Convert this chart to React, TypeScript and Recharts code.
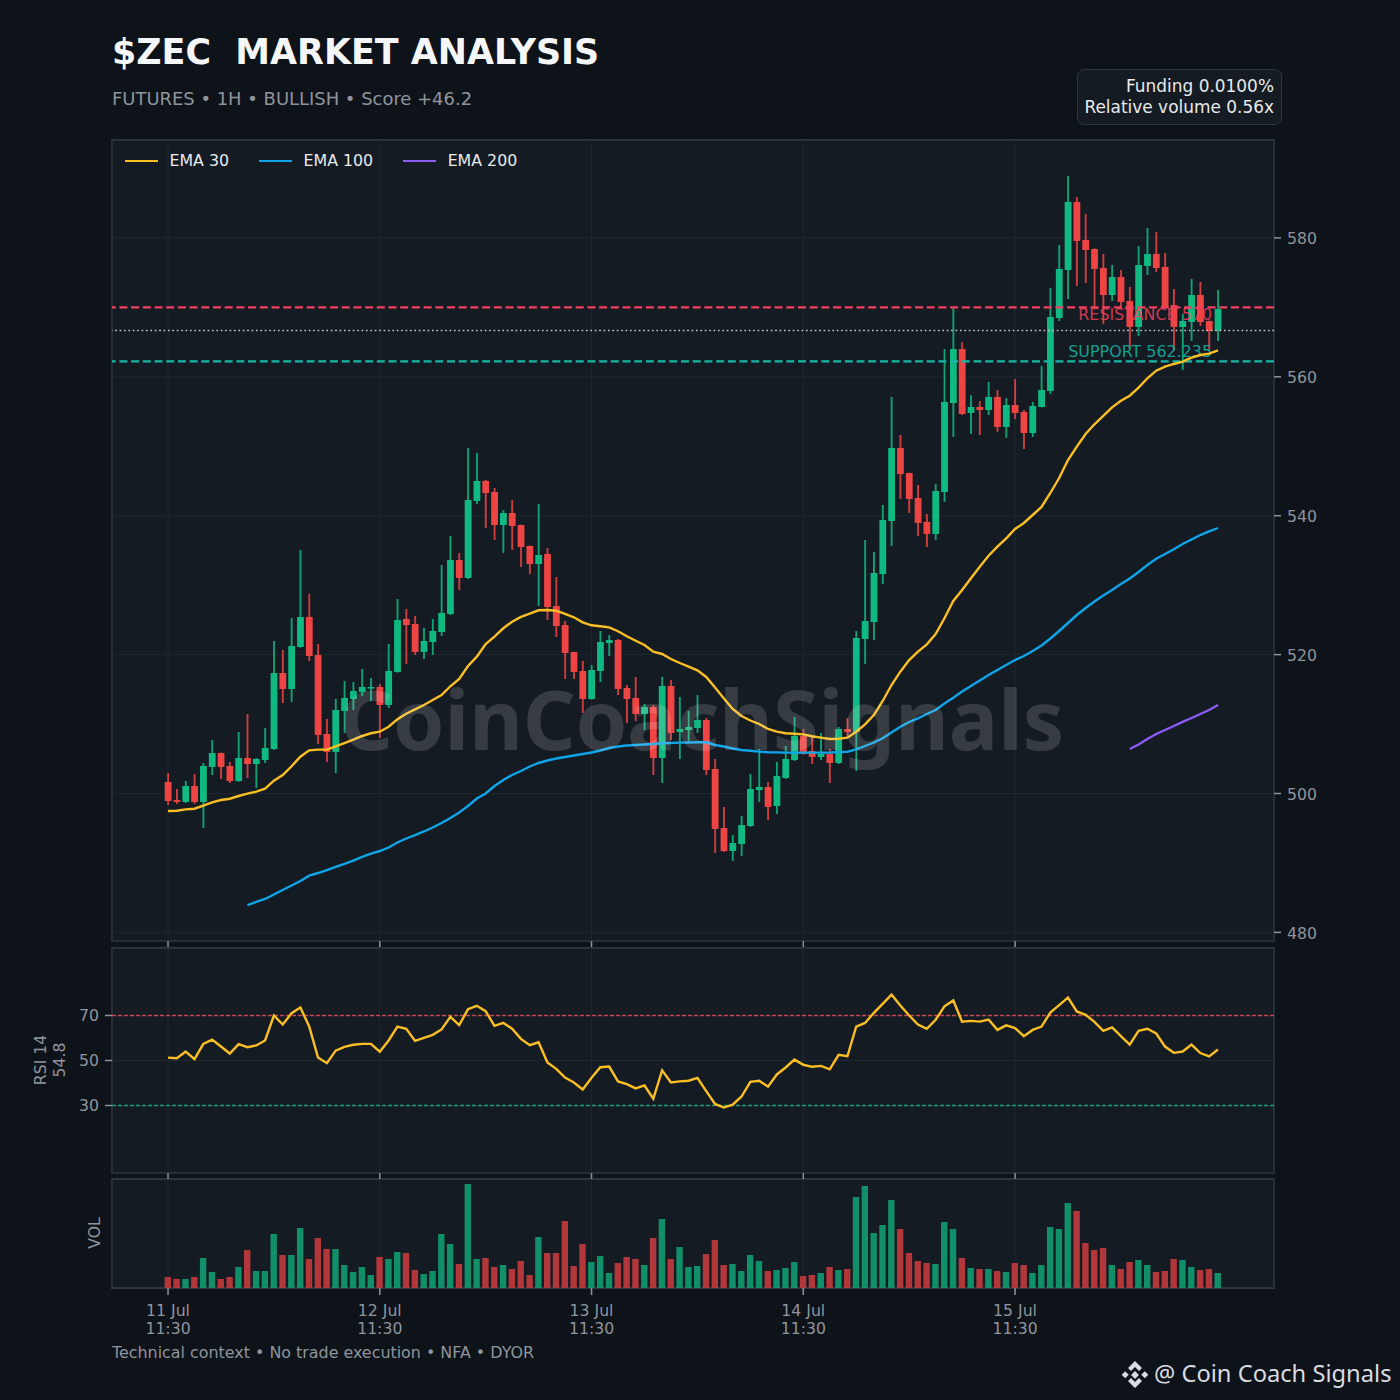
import { Bar, CartesianGrid, Cell, ComposedChart, Legend, Line, ReferenceLine, XAxis, YAxis } from "recharts";

const opens = [
  501.66, 499.06, 498.78, 501.08, 498.78, 503.82, 505.83, 503.96, 501.8, 505.11,
  504.25, 504.82, 506.41, 517.35, 515.05, 521.1, 525.42, 519.94, 508.57, 505.98,
  511.88, 513.61, 514.62, 515.2, 515.34, 512.74, 517.5, 525.13, 524.41, 520.38,
  521.82, 523.26, 525.85, 533.62, 531.03, 542.12, 545.0, 543.41, 538.66, 540.39,
  538.66, 535.64, 533.05, 534.49, 527.0, 524.26, 520.38, 517.64, 513.61, 517.64,
  521.67, 522.1, 515.19, 513.75, 511.45, 512.46, 505.11, 515.48, 508.86, 509.14,
  509.43, 510.58, 503.53, 495.03, 491.72, 492.73, 495.32, 500.5, 500.94, 498.2,
  502.23, 504.82, 508.28, 506.12, 505.26, 505.69, 504.39, 509.29, 508.86, 522.25,
  524.69, 531.6, 539.24, 549.75, 546.15, 542.55, 539.1, 537.37, 543.41, 556.23,
  564.0, 554.8, 555.66, 555.22, 557.1, 552.78, 555.94, 554.94, 551.91, 555.66,
  557.96, 568.47, 575.38, 585.18, 579.7, 578.4, 575.67, 571.78, 574.38, 570.92,
  567.18, 575.96, 577.69, 575.82, 570.34, 567.18, 567.9, 571.78, 568.04, 566.6,
];
const closes = [
  498.92, 498.78, 501.08, 498.78, 503.96, 505.83, 503.82, 501.8, 505.11, 504.25,
  504.97, 506.55, 517.35, 515.05, 521.24, 525.42, 519.8, 508.42, 505.98, 512.02,
  513.75, 514.76, 515.34, 515.34, 512.74, 517.64, 524.98, 524.26, 520.38, 521.96,
  523.4, 526.0, 533.62, 531.03, 542.26, 545.0, 543.27, 538.66, 540.39, 538.52,
  535.5, 533.05, 534.34, 526.86, 524.12, 520.23, 517.5, 513.61, 517.78, 521.82,
  522.1, 515.05, 513.61, 511.45, 512.46, 505.11, 515.48, 508.71, 509.29, 509.58,
  510.58, 503.38, 494.89, 491.72, 492.87, 495.46, 500.65, 500.94, 498.06, 502.52,
  504.97, 508.28, 505.69, 505.26, 505.69, 504.39, 509.29, 508.86, 522.39, 524.84,
  531.75, 539.38, 549.75, 546.0, 542.41, 538.95, 537.37, 543.56, 556.38, 564.0,
  554.65, 555.66, 555.22, 557.1, 552.78, 555.94, 554.8, 551.91, 555.8, 558.1,
  568.62, 575.53, 585.18, 579.56, 578.26, 575.53, 571.78, 574.38, 570.78, 567.18,
  576.1, 577.69, 575.67, 570.06, 567.18, 568.04, 571.78, 567.9, 566.6, 569.77,
];
const highs = [
  502.95, 500.65, 501.8, 502.81, 504.39, 507.7, 505.9, 504.54, 508.86, 511.45,
  505.1, 509.43, 521.96, 520.66, 525.27, 535.06, 528.73, 521.53, 510.73, 513.61,
  516.2, 516.06, 517.93, 516.63, 515.77, 521.53, 528.0, 526.57, 525.56, 523.83,
  525.13, 532.9, 537.08, 534.63, 549.75, 549.03, 545.14, 543.99, 540.82, 542.26,
  538.7, 535.7, 541.69, 535.35, 531.18, 524.84, 520.4, 519.08, 518.5, 523.4,
  522.82, 522.25, 515.62, 516.78, 512.89, 512.74, 516.78, 516.34, 513.9, 511.88,
  514.18, 510.87, 504.97, 498.06, 494.02, 496.76, 502.81, 506.41, 501.66, 504.54,
  506.84, 511.02, 509.29, 508.14, 508.71, 506.41, 509.58, 510.87, 523.4, 536.5,
  534.78, 541.54, 557.1, 551.62, 546.2, 544.42, 540.25, 544.57, 564.0, 570.05,
  565.0, 557.34, 556.5, 559.26, 558.1, 556.94, 559.7, 555.22, 556.38, 561.56,
  572.8, 578.98, 588.92, 585.9, 583.45, 578.5, 577.69, 576.1, 575.38, 572.94,
  578.84, 581.43, 580.86, 577.83, 572.65, 569.05, 574.09, 573.66, 568.1, 572.5,
];
const lows = [
  498.34, 498.49, 498.63, 498.49, 495.03, 502.66, 502.09, 501.51, 501.7, 502.23,
  500.79, 504.39, 506.26, 513.03, 513.18, 521.0, 519.08, 507.13, 504.54, 502.95,
  508.71, 512.02, 514.04, 513.32, 507.99, 512.31, 517.4, 518.65, 519.94, 519.37,
  519.94, 522.68, 525.7, 529.3, 530.9, 541.69, 538.23, 536.5, 534.63, 535.06,
  532.62, 531.6, 527.0, 524.98, 522.54, 516.49, 516.49, 511.59, 513.5, 516.06,
  519.8, 514.18, 510.15, 510.44, 509.14, 502.66, 501.51, 507.7, 504.97, 507.56,
  508.71, 502.66, 491.43, 491.58, 490.28, 491.0, 495.2, 498.78, 496.18, 497.05,
  502.1, 504.7, 505.6, 504.25, 504.82, 501.51, 504.25, 508.14, 503.24, 518.65,
  522.1, 530.17, 535.64, 542.41, 540.39, 537.08, 535.5, 536.5, 542.0, 551.34,
  554.5, 551.77, 551.62, 554.5, 552.06, 551.2, 553.93, 549.6, 551.34, 555.6,
  557.53, 568.04, 571.2, 573.08, 573.5, 570.06, 567.6, 570.92, 570.06, 564.3,
  565.88, 574.66, 575.1, 569.9, 563.84, 561.0, 565.16, 567.32, 563.84, 565.16,
];
const ema30 = [
  497.48, 497.52, 497.72, 497.81, 498.24, 498.73, 499.06, 499.25, 499.64, 499.97,
  500.26, 500.69, 501.84, 502.66, 503.92, 505.3, 506.22, 506.31, 506.31, 506.8,
  507.27, 507.75, 508.28, 508.67, 508.9, 509.62, 510.68, 511.49, 512.12, 512.74,
  513.46, 514.18, 515.44, 516.49, 518.36, 519.7, 521.53, 522.58, 523.79, 524.74,
  525.42, 525.89, 526.38, 526.42, 526.32, 525.85, 525.37, 524.65, 524.22, 524.08,
  523.93, 523.36, 522.64, 522.0, 521.38, 520.42, 520.09, 519.37, 518.79, 518.26,
  517.74, 516.78, 515.26, 513.68, 512.17, 511.16, 510.51, 510.01, 509.29, 508.9,
  508.67, 508.61, 508.52, 508.24, 508.04, 507.85, 507.89, 508.04, 508.9, 509.96,
  511.3, 513.32, 515.62, 517.54, 519.22, 520.42, 521.48, 522.97, 525.23, 527.72,
  529.3, 530.99, 532.66, 534.24, 535.54, 536.75, 538.09, 538.95, 540.1, 541.26,
  543.27, 545.43, 548.02, 549.94, 551.77, 553.16, 554.36, 555.61, 556.56, 557.28,
  558.44, 559.79, 560.88, 561.46, 561.85, 562.18, 562.76, 563.14, 563.33, 563.82,
];
const ema100Start = 9;
const ema100 = [
  483.94, 484.38, 484.81, 485.46, 486.1, 486.75, 487.4, 488.16, 488.55, 488.98, 489.42,
  489.85, 490.35, 490.86, 491.35, 491.72, 492.22, 492.94, 493.52, 494.02, 494.53,
  495.1, 495.75, 496.47, 497.26, 498.2, 499.28, 500, 501.08, 501.94, 502.66,
  503.24, 503.89, 504.39, 504.75, 505.04, 505.26, 505.47, 505.69, 505.9, 506.19,
  506.55, 506.77, 506.91, 506.98, 507.06, 507.13, 507.23, 507.27, 507.32, 507.34,
  507.37, 507.37, 506.98, 506.77, 506.48, 506.26, 506.15, 506.03, 505.93, 505.92,
  505.89, 505.88, 505.88, 505.88, 505.88, 505.9, 505.95, 506.02, 506.34, 506.84,
  507.34, 507.95, 508.78, 509.62, 510.3, 510.83, 511.45, 512.02, 512.96, 513.8,
  514.69, 515.48, 516.27, 517.06, 517.78, 518.5, 519.22, 519.8, 520.52, 521.31,
  522.32, 523.4, 524.55, 525.7, 526.71, 527.65, 528.51, 529.3, 530.17, 530.96,
  531.9, 532.9, 533.8, 534.49, 535.16, 535.93, 536.58, 537.22, 537.73, 538.23,
];
const ema200Start = 109;
const ema200 = [506.41, 507.06, 507.85, 508.57, 509.14, 509.72, 510.3, 510.87, 511.45, 512.02, 512.74];
const rsi = [
  51.3, 51.0, 54.0, 50.6, 57.4, 59.3, 56.2, 53.1, 57.3, 55.9,
  56.7, 58.9, 70.0, 66.0, 71.0, 73.6, 65.1, 51.3, 48.8, 54.4,
  56.1, 57.0, 57.4, 57.4, 53.9, 58.9, 65.1, 64.1, 58.7, 60.1,
  61.4, 63.8, 69.4, 65.7, 72.8, 74.3, 71.9, 65.4, 66.7, 64.1,
  59.6, 56.8, 58.1, 49.1, 46.3, 42.4, 40.2, 37.1, 42.3, 47.0,
  47.3, 40.7, 39.5, 37.6, 38.9, 33.0, 45.6, 40.2, 40.7, 41.0,
  42.3, 36.4, 30.7, 29.1, 30.4, 34.0, 40.5, 41.0, 38.4, 43.8,
  46.9, 50.4, 48.1, 47.2, 47.6, 46.1, 52.5, 51.9, 65.1, 66.7,
  71.2, 75.2, 79.3, 74.4, 70.0, 66.0, 64.1, 68.1, 74.1, 76.7,
  67.2, 67.6, 67.3, 68.2, 63.6, 65.6, 64.4, 60.8, 63.6, 65.1,
  71.3, 74.6, 78.0, 71.8, 70.3, 67.2, 63.2, 64.7, 60.8, 57.1,
  63.2, 64.1, 62.0, 56.2, 53.4, 54.0, 57.1, 53.3, 51.8, 54.9,
];
const volumes = [
  33, 27, 27, 33, 90, 48, 27, 33, 63, 114,
  51, 51, 162, 99, 99, 180, 87, 150, 117, 117,
  69, 48, 63, 39, 93, 87, 108, 105, 54, 42,
  51, 162, 132, 72, 312, 87, 90, 63, 69, 57,
  81, 39, 153, 105, 105, 201, 66, 132, 78, 96,
  45, 75, 93, 87, 69, 150, 207, 87, 123, 63,
  66, 102, 144, 69, 72, 51, 99, 81, 51, 54,
  60, 78, 36, 39, 45, 63, 54, 57, 273, 306,
  165, 189, 264, 177, 105, 81, 75, 72, 198, 177,
  90, 60, 57, 57, 51, 48, 75, 69, 45, 69,
  183, 177, 255, 231, 135, 114, 120, 69, 57, 78,
  84, 69, 48, 51, 87, 84, 63, 54, 57, 45,
];

const tickIndex = [0, 24, 48, 72, 96];
const tickLabels = ["11 Jul\n11:30", "12 Jul\n11:30", "13 Jul\n11:30", "14 Jul\n11:30", "15 Jul\n11:30"];
const priceTicks = [480, 500, 520, 540, 560, 580];
const rsiTicks = [30, 50, 70];
const legendOrder = ["EMA 30", "EMA 100", "EMA 200"];
const resistance = 570;
const support = 562.235;
const lastPrice = 566.67;

const table = opens.map((open, i) => ({
  i,
  open,
  close: closes[i],
  high: highs[i],
  low: lows[i],
  range: [lows[i], highs[i]],
  ema30: ema30[i],
  ema100: i >= ema100Start ? ema100[i - ema100Start] : null,
  ema200: i >= ema200Start ? ema200[i - ema200Start] : null,
  rsi: rsi[i],
  volume: volumes[i],
}));

const xDomain: [number, number] = [-6.35, 125.35];
const GREEN = "#10b981";
const RED = "#ef4444";
const AXIS = "#8f959d";
const GRID = "#1f2731";
const PANEL = "#141b23";
const BORDER = "#2e3641";

const Candle = (props: any) => {
  const { x, y, width, height, payload } = props;
  const up = payload.close >= payload.open;
  const color = up ? GREEN : RED;
  const k = height / (payload.high - payload.low);
  const top = y + (payload.high - Math.max(payload.open, payload.close)) * k;
  const bodyH = Math.max(Math.abs(payload.open - payload.close) * k, 1.6);
  const cx = x + width / 2;
  return (
    <g>
      <line x1={cx} x2={cx} y1={y} y2={y + height} stroke={color} strokeOpacity={0.85} strokeWidth={1.9} />
      <rect x={cx - 3.4} y={top} width={6.8} height={bodyH} fill={color} />
    </g>
  );
};

const DateTick = (props: any) => {
  const { x, y, index } = props;
  const [a, b] = tickLabels[index].split("\n");
  return (
    <text x={x} y={y} textAnchor="middle" fill={AXIS} fontSize={15.7}>
      <tspan x={x} dy={19}>{a}</tspan>
      <tspan x={x} dy={18}>{b}</tspan>
    </text>
  );
};

const levelLabel = (text: string, color: string, dy: number) => (props: any) => {
  const { viewBox } = props;
  return (
    <text x={viewBox.x + viewBox.width - 62} y={viewBox.y + dy} textAnchor="end" fill={color} fillOpacity={0.85} fontSize={15.9}>
      {text}
    </text>
  );
};

const EmaLegend = (props: any) => {
  const items = legendOrder.map((n) => (props.payload || []).find((p: any) => p.value === n)).filter(Boolean);
  return (
    <div style={{ display: "flex", color: "#e8eaed", fontSize: 15.8 }}>
      {items.map((p: any) => (
        <div key={p.value} style={{ display: "flex", alignItems: "center", marginRight: 30 }}>
          <span style={{ width: 33, height: 2, background: p.color, marginRight: 11.5, display: "inline-block" }} />
          {p.value}
        </div>
      ))}
    </div>
  );
};

const panel = (top: number, height: number): any => ({
  position: "absolute",
  left: 111,
  top: top - 1,
  width: 1164,
  height: height + 2,
  boxSizing: "border-box",
  background: PANEL,
  border: `2px solid ${BORDER}`,
});

const text = (left: number, top: number, size: number, color: string, extra: any = {}): any => ({
  position: "absolute",
  left,
  top,
  fontSize: size,
  color,
  lineHeight: 1,
  whiteSpace: "pre",
  ...extra,
});

export default function App() {
  return (
    <div style={{ position: "absolute", left: 0, top: 0, width: 1400, height: 1400, background: "#0e1219", overflow: "hidden", fontFamily: "'DejaVu Sans', sans-serif" }}>
      <div style={text(112, 35, 34.9, "#f4f6f8", { fontWeight: 700 })}>{"$ZEC  MARKET ANALYSIS"}</div>
      <div style={text(112, 90, 17.95, "#8f959d")}>FUTURES • 1H • BULLISH • Score +46.2</div>
      <div style={{ position: "absolute", left: 1077, top: 69, width: 205, height: 56, boxSizing: "border-box", background: PANEL, border: `1.5px solid ${BORDER}`, borderRadius: 7, color: "#e8eaed", fontSize: 16.95, lineHeight: "20.5px", textAlign: "right", padding: "6px 7px 0 0" }}>
        <div>Funding 0.0100%</div>
        <div>Relative volume 0.56x</div>
      </div>

      <div style={panel(140, 801)} />
      <div style={panel(948, 225)} />
      <div style={panel(1179, 109)} />

      <div style={{ position: "absolute", left: 0, top: 140 }}>
        <ComposedChart width={1400} height={808} data={table} margin={{ top: 0, right: 0, bottom: 0, left: 112 }}>
          <CartesianGrid stroke={GRID} />
          <XAxis dataKey="i" type="number" domain={xDomain} allowDataOverflow ticks={tickIndex} tickFormatter={() => ""} height={7} tickSize={6} axisLine={false} tickLine={{ stroke: AXIS, strokeWidth: 1.5 }} />
          <YAxis orientation="right" width={126} domain={[478.76, 594.1]} allowDataOverflow ticks={priceTicks} axisLine={false} tickSize={7} tickMargin={6} tickLine={{ stroke: AXIS, strokeWidth: 1.5 }} tick={{ fill: AXIS, fontSize: 15.7, dy: 1 }} />
          <ReferenceLine y={resistance} stroke="none" label={levelLabel("RESISTANCE 570", "#f43f5e", 13)} />
          <ReferenceLine y={support} stroke="none" label={levelLabel("SUPPORT 562.235", "#14b8a6", -4)} />
          <Bar dataKey="range" barSize={7} shape={<Candle />} isAnimationActive={false} legendType="none" />
          <ReferenceLine y={resistance} stroke="#f43f5e" strokeWidth={2.3} strokeDasharray="8 3.7" />
          <ReferenceLine y={support} stroke="#14b8a6" strokeWidth={2.3} strokeDasharray="8 3.7" />
          <ReferenceLine y={lastPrice} stroke="#c5c9cf" strokeWidth={1.5} strokeDasharray="1.6 2.8" />
          <Line dataKey="ema30" name="EMA 30" stroke="#fbbf24" strokeWidth={2.4} dot={false} isAnimationActive={false} />
          <Line dataKey="ema100" name="EMA 100" stroke="#0ea5e9" strokeWidth={2.4} dot={false} isAnimationActive={false} />
          <Line dataKey="ema200" name="EMA 200" stroke="#8b5cf6" strokeWidth={2.4} dot={false} isAnimationActive={false} />
          <Legend layout="horizontal" verticalAlign="middle" align="center" wrapperStyle={{ left: 125, top: 11, width: 500 }} content={<EmaLegend />} />
        </ComposedChart>
      </div>

      <div style={{ position: "absolute", left: 0, top: 948 }}>
        <ComposedChart width={1400} height={232} data={table} margin={{ top: 0, right: 126, bottom: 0, left: 0 }}>
          <CartesianGrid stroke={GRID} />
          <XAxis dataKey="i" type="number" domain={xDomain} allowDataOverflow ticks={tickIndex} tickFormatter={() => ""} height={7} tickSize={6} axisLine={false} tickLine={{ stroke: AXIS, strokeWidth: 1.5 }} />
          <YAxis width={112} domain={[0, 100]} ticks={rsiTicks} axisLine={false} tickSize={7} tickMargin={6} tickLine={{ stroke: AXIS, strokeWidth: 1.5 }} tick={{ fill: AXIS, fontSize: 15.7 }} />
          <ReferenceLine y={70} stroke="#c9474d" strokeWidth={1.3} strokeDasharray="4 2" />
          <ReferenceLine y={30} stroke="#1b9e78" strokeWidth={1.3} strokeDasharray="4 2" />
          <Line dataKey="rsi" stroke="#fbbf24" strokeWidth={2.4} dot={false} isAnimationActive={false} />
        </ComposedChart>
      </div>

      <div style={{ position: "absolute", left: 0, top: 1179 }}>
        <ComposedChart width={1400} height={160} data={table} margin={{ top: 0, right: 126, bottom: 0, left: 112 }}>
          <CartesianGrid stroke={GRID} horizontal={false} />
          <XAxis dataKey="i" type="number" domain={xDomain} allowDataOverflow ticks={tickIndex} height={51} tickSize={7} axisLine={false} tickLine={{ stroke: AXIS, strokeWidth: 1.5 }} tick={<DateTick />} />
          <YAxis hide domain={[0, 327]} />
          <Bar dataKey="volume" barSize={6.4} isAnimationActive={false}>
            {table.map((d) => (
              <Cell key={d.i} fill={d.close >= d.open ? "#118f68" : "#b2373a"} />
            ))}
          </Bar>
        </ComposedChart>
      </div>

      <div style={text(340, 673, 82.5, "rgba(255,255,255,0.15)", { fontFamily: "'Noto Sans'", fontWeight: 700, lineHeight: "90px" })}>CoinCoachSignals</div>

      <div style={{ ...text(41, 1060, 15.7, AXIS), transform: "translate(-50%,-50%) rotate(-90deg)" }}>RSI 14</div>
      <div style={{ ...text(60, 1060, 15.7, AXIS), transform: "translate(-50%,-50%) rotate(-90deg)" }}>54.8</div>
      <div style={{ ...text(95, 1233, 15.7, AXIS), transform: "translate(-50%,-50%) rotate(-90deg)" }}>VOL</div>
      <div style={text(112, 1345, 15.9, AXIS)}>Technical context • No trade execution • NFA • DYOR</div>

      <svg style={{ position: "absolute", left: 1120, top: 1360 }} width={30} height={30} viewBox="0 0 30 30">
        <g fill="#d9dce0">
          <path d="M15 1 L22 8 L19 11 L15 7 L11 11 L8 8 Z" />
          <path d="M15 28 L22 21 L19 18 L15 22 L11 18 L8 21 Z" />
          <rect x="2.7" y="12.2" width="5" height="5" transform="rotate(45 5.2 14.7)" />
          <rect x="22.3" y="12.2" width="5" height="5" transform="rotate(45 24.8 14.7)" />
          <rect x="12.2" y="12.2" width="5.6" height="5.6" transform="rotate(45 15 15)" />
        </g>
      </svg>
      <div style={text(1154, 1362, 23.7, "#d9dce0", { fontFamily: "'Noto Sans'" })}>@ Coin Coach Signals</div>
    </div>
  );
}
